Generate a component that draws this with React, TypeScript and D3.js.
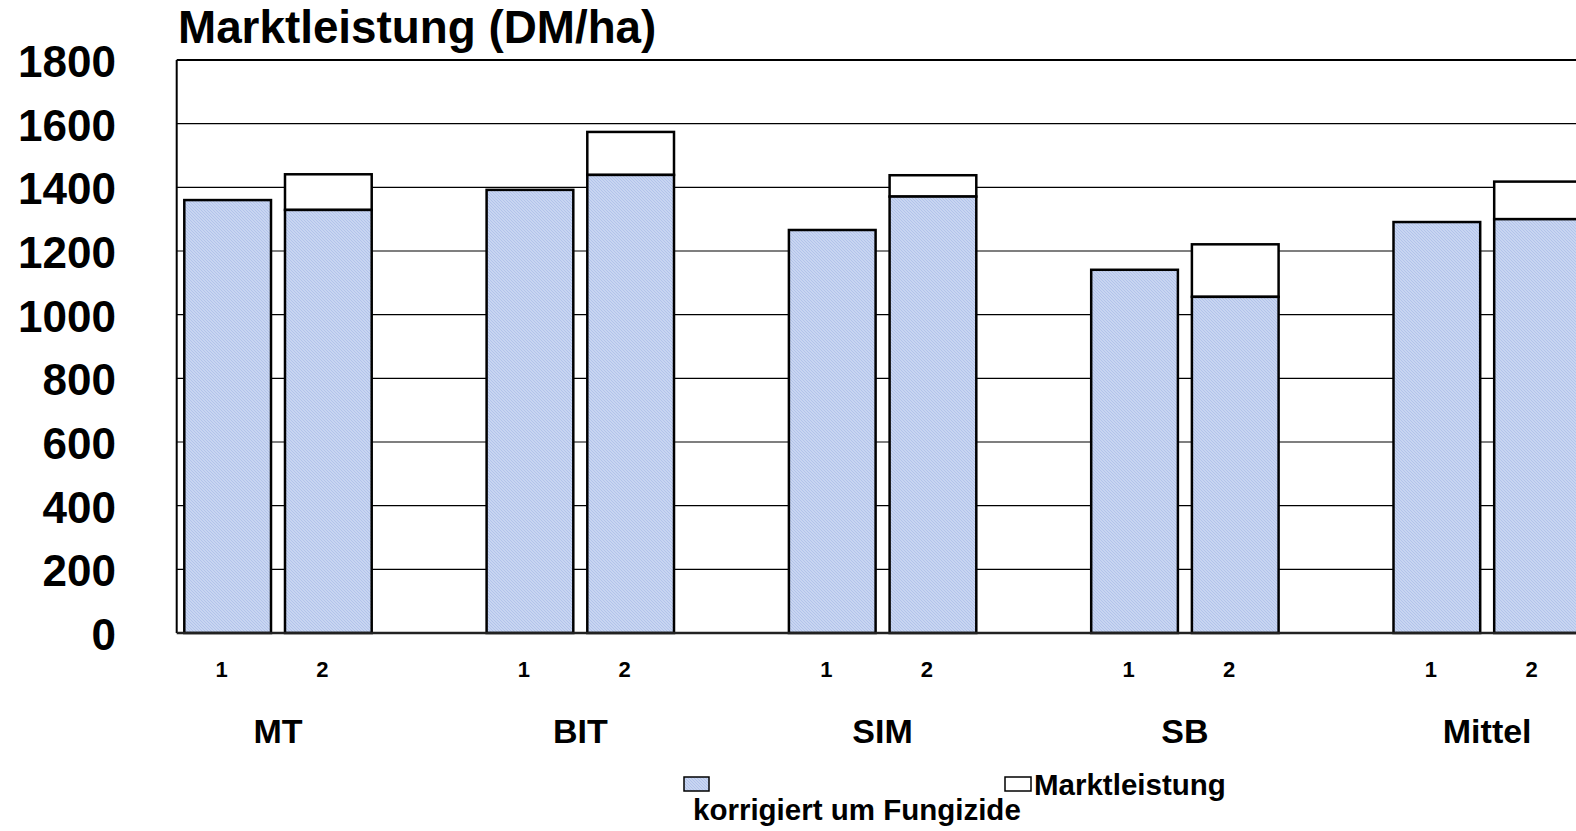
import React from "react";
import * as d3 from "d3";

const categories = ["MT", "BIT", "SIM", "SB", "Mittel"];
const variants = ["1", "2"];
// Variant 1 values (no fungicide difference)
const korrigiert1 = [1360, 1392, 1266, 1141, 1291];
// Variant 2: corrected by fungicide costs, and market output
const korrigiert2 = [1329, 1439, 1371, 1056, 1300];
const marktleistung2 = [1441, 1574, 1438, 1221, 1418];
const yTicks = [0, 200, 400, 600, 800, 1000, 1200, 1400, 1600, 1800];

const W = 1576;
const H = 831;
const FONT = "'Liberation Sans', Arial, sans-serif";

export default function App() {
  const left = 176.7;
  const top = 60;
  const bottom = 633;
  const step = 302.3;
  const x0 = d3
    .scaleBand<string>()
    .domain(categories)
    .range([left, left + step * categories.length])
    .paddingInner(0)
    .paddingOuter(0);
  const x1 = d3
    .scaleBand<string>()
    .domain(variants)
    .range([7.6, 195])
    .paddingInner(0.139)
    .paddingOuter(0);
  const y = d3.scaleLinear().domain([0, 1800]).range([bottom, top]);
  const bw = x1.bandwidth();
  const plotRight = left + step * categories.length;

  const bars: { cat: string; v: string; base: number; total: number }[] = [];
  categories.forEach((c, i) => {
    bars.push({ cat: c, v: "1", base: korrigiert1[i], total: korrigiert1[i] });
    bars.push({ cat: c, v: "2", base: korrigiert2[i], total: marktleistung2[i] });
  });

  return (
    <div style={{ position: "absolute", left: 0, top: 0, width: W, height: H, overflow: "hidden" }}>
      <svg width={W} height={H} style={{ display: "block", background: "#fff" }}>
        <defs>
          <pattern id="hatch" width="3" height="3" patternUnits="userSpaceOnUse">
            <rect width="3" height="3" fill="#c8d5f1" />
            <rect x="0" y="0" width="1" height="1" fill="#b2c3ea" />
            <rect x="1" y="1" width="1" height="1" fill="#b2c3ea" />
            <rect x="2" y="2" width="1" height="1" fill="#b2c3ea" />
          </pattern>
        </defs>

        {/* title */}
        <text x={178} y={43} fontFamily={FONT} fontWeight="bold" fontSize={45.8} fill="#000">
          Marktleistung (DM/ha)
        </text>

        {/* gridlines */}
        {yTicks
          .filter((t) => t !== 0 && t !== 1800)
          .map((t) => (
            <line key={t} x1={left} x2={plotRight} y1={y(t)} y2={y(t)} stroke="#000" strokeWidth={1.2} />
          ))}

        {/* y tick labels */}
        {yTicks.map((t) => (
          <text
            key={"l" + t}
            x={116}
            y={y(t) + 17}
            textAnchor="end"
            fontFamily={FONT}
            fontWeight="bold"
            fontSize={44}
            fill="#000"
          >
            {t}
          </text>
        ))}

        {/* bars */}
        {bars.map((b) => {
          const bx = (x0(b.cat) as number) + (x1(b.v) as number);
          return (
            <g key={b.cat + b.v}>
              {b.total > b.base && (
                <rect
                  x={bx}
                  y={y(b.total)}
                  width={bw}
                  height={y(b.base) - y(b.total)}
                  fill="#fff"
                  stroke="#000"
                  strokeWidth={2.5}
                />
              )}
              <rect
                x={bx}
                y={y(b.base)}
                width={bw}
                height={bottom - y(b.base)}
                fill="url(#hatch)"
                stroke="#000"
                strokeWidth={2.5}
              />
            </g>
          );
        })}

        {/* plot border: top and left, and x axis */}
        <line x1={left} x2={plotRight} y1={top} y2={top} stroke="#000" strokeWidth={2} />
        <line x1={left} x2={left} y1={top} y2={bottom} stroke="#000" strokeWidth={2} />
        <line x1={left} x2={plotRight} y1={bottom} y2={bottom} stroke="#222" strokeWidth={2.5} />

        {/* variant labels */}
        {bars.map((b) => {
          const bx = (x0(b.cat) as number) + (x1(b.v) as number);
          return (
            <text
              key={"v" + b.cat + b.v}
              x={bx + bw / 2 - 6}
              y={677}
              textAnchor="middle"
              fontFamily={FONT}
              fontWeight="bold"
              fontSize={22}
              fill="#000"
            >
              {b.v}
            </text>
          );
        })}

        {/* category labels */}
        {categories.map((c) => {
          const cx = (x0(c) as number) + ((x1("1") as number) + (x1("2") as number) + bw) / 2;
          return (
            <text
              key={"c" + c}
              x={cx}
              y={743}
              textAnchor="middle"
              fontFamily={FONT}
              fontWeight="bold"
              fontSize={34}
              fill="#000"
            >
              {c}
            </text>
          );
        })}

        {/* legend */}
        <rect x={684} y={777} width={25} height={14} fill="url(#hatch)" stroke="#000" strokeWidth={1.5} />
        <text x={693} y={820} fontFamily={FONT} fontWeight="bold" fontSize={29.5} fill="#000">
          korrigiert um Fungizide
        </text>
        <rect x={1005} y={777} width={26} height={14} fill="#fff" stroke="#000" strokeWidth={1.5} />
        <text x={1034} y={795} fontFamily={FONT} fontWeight="bold" fontSize={29.5} fill="#000">
          Marktleistung
        </text>
      </svg>
    </div>
  );
}
